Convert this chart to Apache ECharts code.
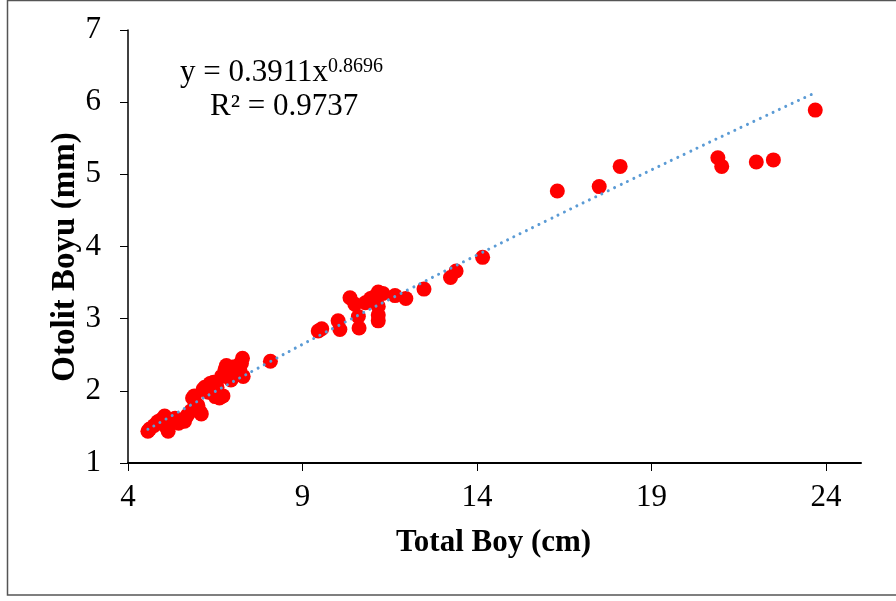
<!DOCTYPE html>
<html>
<head>
<meta charset="utf-8">
<script src="https://cdn.jsdelivr.net/npm/echarts@6/dist/echarts.min.js"></script>
<style>
html,body{margin:0;padding:0;background:#fff;}
#chart{width:896px;height:601px;}
</style>
</head>
<body>
<div id="chart"></div>
<script>
// Observed points: Total Boy (cm) vs Otolit Boyu (mm)
var totalBoy = [
  4.57, 4.62, 4.75, 4.85, 4.95, 5.05, 5.10, 5.15, 5.25, 5.35, 5.45, 5.55, 5.62, 5.70, 5.80,
  5.85, 5.90, 6.00, 6.05, 6.10, 6.15, 6.20, 6.30, 6.35, 6.45, 6.50, 6.55, 6.62, 6.68, 6.72,
  6.78, 6.82, 6.90, 6.95, 7.00, 7.05, 7.15, 7.20, 7.28, 7.30, 7.25, 8.08,
  9.45, 9.55, 10.02, 10.07, 10.36, 10.50, 10.60, 10.62, 10.80, 10.95, 11.05, 11.17, 11.30,
  11.17, 11.17, 11.17, 11.65, 11.96, 12.48, 13.24, 13.40, 14.16,
  16.30, 17.50, 18.10, 20.90, 21.01, 22.00, 22.49, 23.69
];
var otolitBoyu = [
  1.44, 1.47, 1.52, 1.57, 1.60, 1.65, 1.50, 1.44, 1.58, 1.62, 1.55, 1.60, 1.58, 1.66, 1.72,
  1.90, 1.93, 1.80, 1.72, 1.68, 2.02, 2.05, 1.98, 2.10, 2.12, 1.92, 2.05, 1.90, 2.20, 1.93,
  2.30, 2.35, 2.28, 2.15, 2.33, 2.25, 2.35, 2.30, 2.45, 2.20, 2.38, 2.41,
  2.83, 2.86, 2.97, 2.85, 3.29, 3.20, 3.03, 2.87, 3.22, 3.28, 3.30, 3.37, 3.35,
  3.17, 3.05, 2.97, 3.32, 3.28, 3.41, 3.57, 3.66, 3.85,
  4.77, 4.83, 5.11, 5.23, 5.11, 5.17, 5.20, 5.89
];
// Power trendline y = 0.3911x^0.8696, points as drawn in the picture
var trendX = [4.57, 6, 8, 10, 12, 14, 16, 18, 20, 22, 23.69];
var trendY = [1.466, 1.858, 2.386, 2.897, 3.394, 3.882, 4.359, 4.829, 5.293, 5.750, 6.132];

var xTicks = [4, 9, 14, 19, 24];
var yTicks = [1, 2, 3, 4, 5, 6, 7];

var xTitle = 'Total Boy (cm)';
var yTitle = 'Otolit Boyu (mm)';
var eqMain = 'y = 0.3911x';
var eqExp = '0.8696';
var eqR2 = 'R² = 0.9737';

var scatterData = totalBoy.map(function (x, i) { return [x, otolitBoyu[i]]; });
var trendData = trendX.map(function (x, i) { return [x, trendY[i]]; });

var FONT = '"Liberation Serif", "Times New Roman", serif';

var chart = echarts.init(document.getElementById('chart'), null, {renderer: 'canvas'});
chart.setOption({
  animation: false,
  backgroundColor: '#ffffff',
  grid: {left: 128, right: 35, top: 30, bottom: 138, containLabel: false},
  xAxis: {
    type: 'value',
    min: xTicks[0],
    max: 25,
    interval: 5,
    splitLine: {show: false},
    axisLine: {show: true, onZero: false, lineStyle: {color: '#000', width: 2}},
    axisTick: {show: true, inside: false, length: 8, lineStyle: {color: '#000', width: 1}},
    axisLabel: {
      margin: 19, color: '#000', fontFamily: FONT, fontSize: 31,
      showMaxLabel: false,
      formatter: function (v) { return xTicks.indexOf(v) >= 0 ? String(v) : ''; }
    }
  },
  yAxis: {
    type: 'value',
    min: yTicks[0],
    max: yTicks[yTicks.length - 1],
    interval: 1,
    splitLine: {show: false},
    axisLine: {show: true, onZero: false, lineStyle: {color: '#000', width: 1.5}},
    axisTick: {show: true, inside: false, length: 8, lineStyle: {color: '#000', width: 1}},
    axisLabel: {margin: 27, color: '#000', fontFamily: FONT, fontSize: 31}
  },
  series: [
    {
      type: 'scatter',
      data: scatterData,
      symbol: 'circle',
      symbolSize: 15,
      itemStyle: {color: '#ff0000', opacity: 1},
      z: 2
    },
    {
      type: 'line',
      data: trendData,
      smooth: true,
      showSymbol: false,
      symbol: 'none',
      lineStyle: {color: '#5b9bd5', width: 3, type: [0.01, 7], cap: 'round'},
      z: 3
    }
  ],
  graphic: [
    {
      type: 'rect',
      shape: {x: 7.5, y: 0.5, width: 900, height: 594.5},
      style: {fill: 'none', stroke: '#555', lineWidth: 1.5},
      silent: true
    },
    {
      type: 'text', left: 396, top: 527,
      style: {text: xTitle, font: 'bold 31px ' + FONT, fill: '#000'}
    },
    {
      type: 'text', x: 65, y: 257, rotation: Math.PI / 2,
      style: {text: yTitle, font: 'bold 33px ' + FONT, fill: '#000', align: 'center', verticalAlign: 'middle'}
    },
    {
      type: 'text', x: 180, y: 73,
      style: {
        text: '{m|' + eqMain + '}{s|' + eqExp + '}',
        align: 'left', verticalAlign: 'middle',
        rich: {
          m: {font: '31px ' + FONT, fill: '#000', lineHeight: 32},
          s: {font: '20px ' + FONT, fill: '#000', verticalAlign: 'top', padding: [0, 0, 6, 0]}
        }
      }
    },
    {
      type: 'text', x: 210, y: 107,
      style: {text: eqR2, font: '31px ' + FONT, fill: '#000', align: 'left', verticalAlign: 'middle'}
    }
  ]
});
</script>
</body>
</html>
